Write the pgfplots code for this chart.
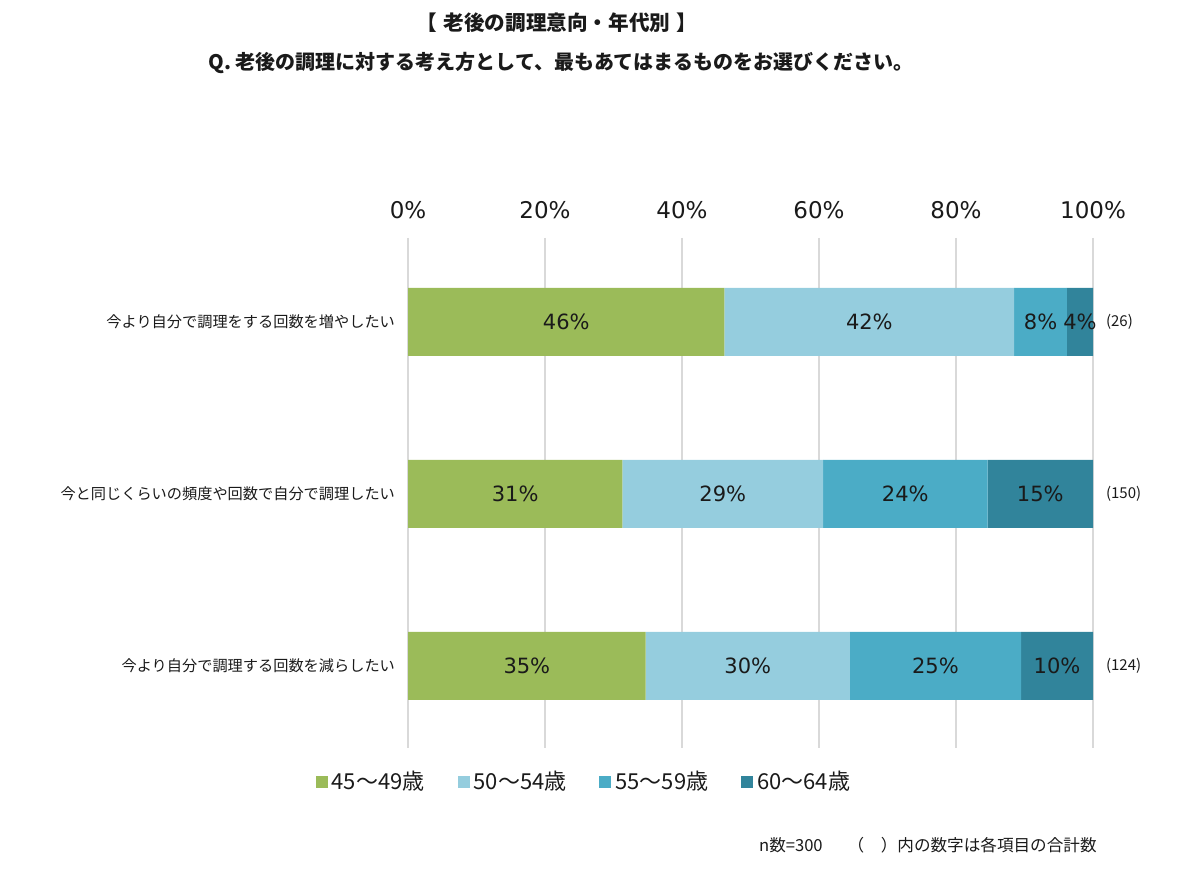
\documentclass[border=0pt]{standalone}
\usepackage{pgfplots}
\pgfplotsset{compat=1.18}
\usepackage{fontspec}
\setmainfont{DejaVu Sans}
\newfontfamily\jp{Noto Sans CJK JP}
\definecolor{cA}{HTML}{9BBB59}
\definecolor{cB}{HTML}{95CDDE}
\definecolor{cC}{HTML}{4BACC6}
\definecolor{cD}{HTML}{31849B}
\definecolor{gridc}{HTML}{D9D9D9}
\definecolor{txt}{HTML}{1A1A1A}

\pgfplotstableread{
y  a    b    c    d
0  46.2 42.3 7.7  3.8
1  31.3 29.3 24.0 15.4
2  34.7 29.8 25.0 10.5
}\datatable

\pgfplotstableread{
x     y  lab
23.1  0  46
67.35 0  42
92.35 0  8
98.1  0  4
15.65 1  31
45.95 1  29
72.6  1  24
92.3  1  15
17.35 2  35
49.6  2  30
77.0  2  25
94.75 2  10
}\labtable

\pgfplotstableread{
x    y  n
100  0  26
100  1  150
100  2  124
}\ntable

\begin{document}
\begin{tikzpicture}[x=1pt,y=1pt]
\path[use as bounding box] (0,0) rectangle (600,435);
\node[font=\jp\bfseries\fontsize{10.3}{12}\selectfont, text=txt] at (278.5,423.5) {【\hspace{0.3em}老後の調理意向・年代別\hspace{0.3em}】};
\node[font=\jp\bfseries\fontsize{10}{12}\selectfont, text=txt] at (280.5,403.5) {Q. 老後の調理に対する考え方として、最もあてはまるものをお選びください。};
\node[font=\jp\fontsize{8.3}{10}\selectfont, text=txt, anchor=east, inner sep=0pt] at (548.5,12.5) {n数=300\hspace{1.5em}（　）内の数字は各項目の合計数};

\begin{axis}[
  at={(204pt,61pt)}, anchor=south west,
  scale only axis, width=342.5pt, height=255pt,
  xbar stacked, bar width=34pt,
  xmin=0, xmax=100,
  ymin=-0.488, ymax=2.477, y dir=reverse,
  xtick={0,20,40,60,80,100},
  xticklabels={0\%,20\%,40\%,60\%,80\%,100\%},
  xticklabel pos=upper,
  xticklabel style={font=\fontsize{11.5}{13}\selectfont, text=txt, yshift=6pt},
  ytick={0,1,2},
  yticklabels={今より自分で調理をする回数を増やしたい,今と同じくらいの頻度や回数で自分で調理したい,今より自分で調理する回数を減らしたい},
  yticklabel style={font=\jp\fontsize{7.6}{9}\selectfont, text=txt, xshift=-3pt},
  xmajorgrids, grid style={gridc, line width=1pt},
  axis line style={draw=none},
  major tick style={draw=none},
  legend columns=4,
  legend style={draw=none, at={(axis description cs:-0.144,-0.067)}, anchor=west,
    font=\jp\fontsize{11}{13}\selectfont, text=txt,
    /tikz/every even column/.append style={column sep=14.5pt}},
  legend image code/.code={\fill[#1] (0pt,-3pt) rectangle (6pt,3pt);},
]
\addplot[fill=cA, draw=none] table[x=a, y=y] {\datatable};
\addlegendentry{45～49歳}
\addplot[fill=cB, draw=none] table[x=b, y=y] {\datatable};
\addlegendentry{50～54歳}
\addplot[fill=cC, draw=none] table[x=c, y=y] {\datatable};
\addlegendentry{55～59歳}
\addplot[fill=cD, draw=none] table[x=d, y=y] {\datatable};
\addlegendentry{60～64歳}
\end{axis}

\begin{axis}[
  at={(204pt,61pt)}, anchor=south west,
  scale only axis, width=342.5pt, height=255pt,
  xmin=0, xmax=100,
  ymin=-0.488, ymax=2.477, y dir=reverse,
  hide axis, clip=false,
]
\addplot[draw=none, mark=none, nodes near coords={\pgfplotspointmeta\%}, point meta=explicit symbolic,
  every node near coord/.style={anchor=center, font=\fontsize{10.5}{12}\selectfont, text=txt}]
  table[x=x, y=y, meta=lab] {\labtable};
\addplot[draw=none, mark=none, nodes near coords={(\pgfplotspointmeta)}, point meta=explicit symbolic,
  every node near coord/.style={anchor=west, xshift=3pt, font=\jp\fontsize{7.5}{9}\selectfont, text=txt}]
  table[x=x, y=y, meta=n] {\ntable};
\end{axis}
\end{tikzpicture}
\end{document}
